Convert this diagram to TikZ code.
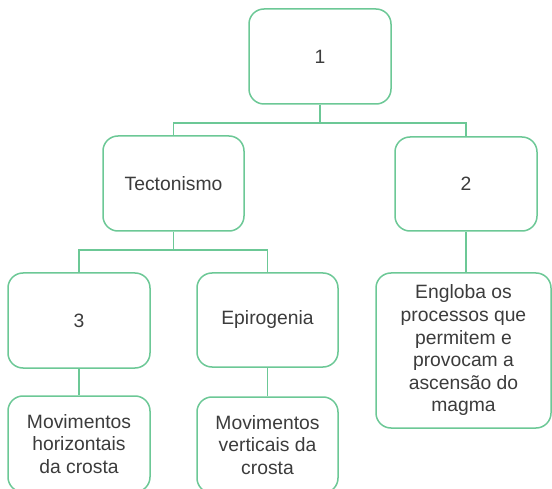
\documentclass[tikz,border=0pt]{standalone}
\usepackage{fontspec}
\setmainfont{Liberation Sans}
\definecolor{boxgreen}{RGB}{108,200,150}
\definecolor{txtgray}{RGB}{60,60,60}
\begin{document}
\begin{tikzpicture}[x=1pt,y=-1pt,
  box/.style={draw=boxgreen, line width=1.5pt, rounded corners=15pt, fill=white,
    text=txtgray, align=center, inner sep=0pt,
    font=\fontsize{19.3}{22.6}\selectfont},
  conn/.style={draw=boxgreen, line width=1.5pt}]
\useasboundingbox[fill=white] (0,0) rectangle (552,489);
\node[box, minimum width=142pt, minimum height=95pt] (b1) at (320,56.5) {1};
\node[box, minimum width=141pt, minimum height=95pt] (tec) at (173.5,183.5) {Tectonismo};
\node[box, minimum width=142pt, minimum height=94pt] (b2) at (466,184) {2};
\node[box, minimum width=142pt, minimum height=95pt] (b3) at (79,320.5) {3};
\node[box, minimum width=141pt, minimum height=94pt] (epi) at (267.5,320) {Epirogenia};
\node[box, minimum width=175pt, minimum height=155pt] (eng) at (463.5,350.5) {Engloba os\\processos que\\permitem e\\provocam a\\ascensão do\\magma};
\node[box, minimum width=142pt, minimum height=96pt] (mh) at (79,444) {Movimentos\\horizontais\\da crosta};
\node[box, minimum width=141pt, minimum height=96pt] (mv) at (267.5,445) {Movimentos\\verticais da\\crosta};
\coordinate (j1) at (320,123);
\coordinate (j2) at (173.5,250);
\draw[conn] (b1.south) -- (j1);
\draw[conn] (tec.north) |- (j1) -| (b2.north);
\draw[conn] (tec.south) -- (j2);
\draw[conn] (b3.north) |- (j2) -| (epi.north);
\draw[conn] (b3.south) -- (mh.north);
\draw[conn] (epi.south) -- (mv.north);
\draw[conn] (b2.south) -- (b2.south |- eng.north);
\end{tikzpicture}
\end{document}
